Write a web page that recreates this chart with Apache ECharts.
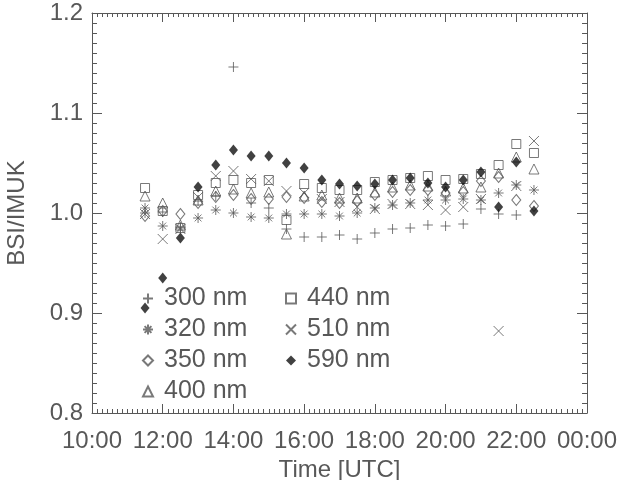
<!DOCTYPE html>
<html>
<head>
<meta charset="utf-8">
<script src="https://cdn.jsdelivr.net/npm/echarts@6/dist/echarts.min.js"></script>
<style>
  html, body { margin: 0; padding: 0; background: #fff; }
  #chart { width: 619px; height: 480px; }
</style>
</head>
<body>
<div id="chart"></div>
<script>
// time of day in hours (UTC)
var times = [11.5, 12, 12.5, 13, 13.5, 14, 14.5, 15, 15.5, 16, 16.5, 17, 17.5, 18, 18.5, 19, 19.5, 20, 20.5, 21, 21.5, 22, 22.5];

var nm300 = [1.000, 1.001, 0.986, 1.012, 1.017, 1.146, 1.010, 1.005, 0.984, 0.976, 0.976, 0.978, 0.974, 0.980, 0.984, 0.985, 0.988, 0.987, 0.989, 1.004, 0.999, 0.998, null];
var nm320 = [1.005, 0.987, 0.985, 0.995, 1.003, 1.000, 0.996, 0.995, 0.999, 0.999, 0.999, 0.997, 1.000, 1.005, 1.008, 1.010, 1.013, 1.013, 1.014, 1.013, 1.020, 1.028, 1.023];
var nm350 = [0.997, 1.002, 0.999, 1.010, 1.016, 1.018, 1.014, 1.014, 1.016, 1.015, 1.011, 1.010, 1.012, 1.018, 1.021, 1.023, 1.023, 1.020, 1.021, 1.032, 1.036, 1.013, 1.007];
var nm400 = [1.017, 1.010, 0.988, 1.013, 1.022, 1.024, 1.020, 1.021, 0.979, 1.017, 1.018, 1.015, 1.015, 1.021, 1.026, 1.028, 1.027, 1.022, 1.025, 1.026, 1.040, 1.056, 1.044];
var nm440 = [1.025, 1.002, 0.985, 1.018, 1.030, 1.033, 1.030, 1.033, 0.993, 1.029, 1.025, 1.023, 1.023, 1.031, 1.033, 1.035, 1.037, 1.033, 1.034, 1.039, 1.048, 1.069, 1.060];
var nm510 = [0.999, 0.974, 0.984, 1.016, 1.037, 1.042, 1.034, 1.032, 1.022, 1.020, 1.014, 1.011, 1.006, 1.004, 1.009, 1.009, 1.008, 1.003, 1.006, 1.014, 0.882, 1.027, 1.072];
var nm590 = [0.905, 0.935, 0.975, 1.026, 1.048, 1.063, 1.057, 1.057, 1.050, 1.045, 1.033, 1.029, 1.027, 1.029, 1.033, 1.035, 1.030, 1.026, 1.033, 1.041, 1.006, 1.051, 1.002];

var names = ['300 nm', '320 nm', '350 nm', '400 nm', '440 nm', '510 nm', '590 nm'];
var values = [nm300, nm320, nm350, nm400, nm440, nm510, nm590];

var grey = '#585858';
var font = 'Liberation Sans';

var PLUS = 'path://M5,0L5,10M0,5L10,5';
var STAR = 'path://M5,0L5,10M0,5L10,5M1.6,1.6L8.4,8.4M8.4,1.6L1.6,8.4';
var CROSS = 'path://M0,0L10,10M10,0L0,10';
var symbols = [PLUS, STAR, 'diamond', 'triangle', 'rect', CROSS, 'diamond'];
var sizes = [10, 10, [9, 11], 10, 9, 10, [9, 11]];

function pairs(vals) {
  var out = [];
  for (var i = 0; i < times.length; i++) {
    if (vals[i] != null) out.push([times[i], vals[i]]);
  }
  return out;
}

var series = names.map(function (n, i) {
  var filled = i === 6;
  return {
    name: n,
    type: 'scatter',
    data: pairs(values[i]),
    symbol: symbols[i],
    symbolSize: sizes[i],
    itemStyle: {
      color: filled ? '#111' : 'rgba(0,0,0,0)',
      borderColor: filled ? '#111' : grey,
      borderWidth: filled ? 0 : 1
    },
    emphasis: { disabled: true }
  };
});

function hourLabel(v) {
  var h = Math.round(v) % 24;
  return (h < 10 ? '0' : '') + h + ':00';
}

var legendText = { fontFamily: font, fontSize: 25, color: grey, lineHeight: 24, padding: [0, 0, 0, 6] };

var chart = echarts.init(document.getElementById('chart'));
chart.setOption({
  animation: false,
  backgroundColor: '#fff',
  grid: { left: 92, right: 32, top: 13, bottom: 67, outerBoundsMode: 'none', containLabel: false },
  legend: [
    {
      data: names.slice(0, 4), orient: 'vertical', left: 137, top: 281,
      itemWidth: 10, itemHeight: 10, itemGap: 6, textStyle: legendText, selectedMode: false
    },
    {
      data: names.slice(4), orient: 'vertical', left: 280, top: 281,
      itemWidth: 10, itemHeight: 10, itemGap: 6, textStyle: legendText, selectedMode: false
    }
  ],
  xAxis: [
    {
      type: 'value', min: 10, max: 24, interval: 2,
      name: 'Time [UTC]', nameLocation: 'middle', nameGap: 41,
      nameTextStyle: { fontFamily: font, fontSize: 24, color: grey },
      axisLine: { lineStyle: { color: grey, width: 1 } },
      axisTick: { inside: true, length: 9, lineStyle: { color: grey } },
      minorTick: { show: true, splitNumber: 14, length: 4, lineStyle: { color: grey } },
      axisLabel: { fontFamily: font, fontSize: 24, color: grey, margin: 16, formatter: hourLabel },
      splitLine: { show: false }
    },
    {
      type: 'value', min: 10, max: 24, interval: 2, position: 'top',
      axisLine: { lineStyle: { color: grey, width: 1 } },
      axisTick: { inside: true, length: 9, lineStyle: { color: grey } },
      minorTick: { show: true, splitNumber: 14, length: 4, lineStyle: { color: grey } },
      axisLabel: { show: false },
      splitLine: { show: false }
    }
  ],
  yAxis: [
    {
      type: 'value', min: 0.8, max: 1.2, interval: 0.1,
      name: 'BSI/IMUK', nameLocation: 'middle', nameGap: 63,
      nameTextStyle: { fontFamily: font, fontSize: 24, color: grey },
      axisLine: { show: true, lineStyle: { color: grey, width: 1 } },
      axisTick: { show: true, inside: true, length: 10, lineStyle: { color: grey } },
      minorTick: { show: true, splitNumber: 10, length: 5, lineStyle: { color: grey } },
      axisLabel: { fontFamily: font, fontSize: 24, color: grey, margin: 9,
        formatter: function (v) { return v.toFixed(1); } },
      splitLine: { show: false }
    },
    {
      type: 'value', min: 0.8, max: 1.2, interval: 0.1, position: 'right',
      axisLine: { show: true, lineStyle: { color: grey, width: 1 } },
      axisTick: { show: true, inside: true, length: 10, lineStyle: { color: grey } },
      minorTick: { show: true, splitNumber: 10, length: 5, lineStyle: { color: grey } },
      axisLabel: { show: false },
      splitLine: { show: false }
    }
  ],
  series: series
});
</script>
</body>
</html>
